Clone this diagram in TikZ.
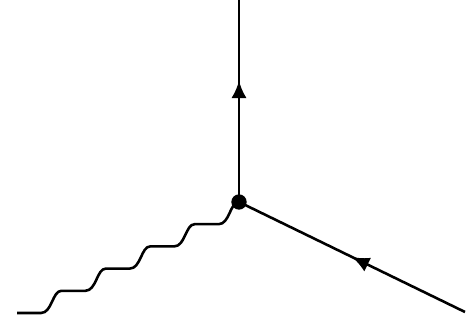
\documentclass[tikz,border=0pt]{standalone}
\usepackage{tikz}
\usetikzlibrary{arrows.meta,decorations.markings}
\tikzset{
    fermion/.style={line width=2.2pt, postaction={decorate},
        decoration={markings, mark=at position #1 with {\arrow{Latex[length=5.2mm,width=4.6mm]}}}},
    photon/.style={line width=2.2pt, line join=round},
    vertexdot/.style={circle, fill=black, inner sep=0pt, minimum size=0.46cm}
}

\begin{document}
\begin{tikzpicture}[x=0.03cm,y=-0.03cm]
        \useasboundingbox (0,0) rectangle (474,320);
        \node[vertexdot] at (239,202) (v) {};
        \coordinate (top) at (239,0);
        \coordinate (right) at (465,312);
        \coordinate (left) at (17,313);
        \draw[fermion=0.6] (v.center) -- (top);
        \draw[fermion=0.5] (right) -- (v.center);
        \draw[photon] (left) \foreach \i in {1,...,5} {
            -- ++(24,0) .. controls +(11,0) and +(-9,0) .. ++(20.4,-22.2)};
\end{tikzpicture}
\end{document}
